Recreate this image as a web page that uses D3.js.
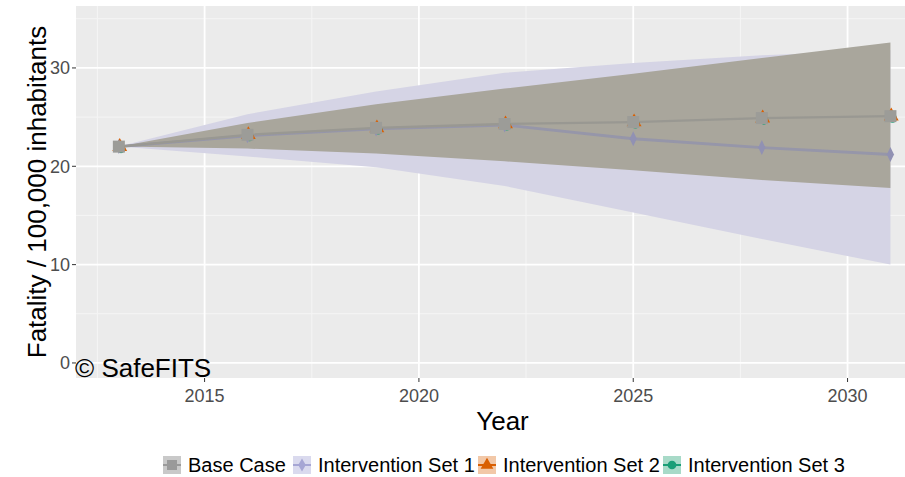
<!DOCTYPE html>
<html>
<head>
<meta charset="utf-8">
<script src="https://cdn.jsdelivr.net/npm/d3@7"></script>
<style>
  body { margin: 0; background: #fff; }
  svg text { font-family: Arial, "Liberation Sans", sans-serif; }
</style>
</head>
<body>
<div id="chart"></div>
<script>
// data
var years = [2013, 2016, 2019, 2022, 2025, 2028, 2031];
var baseCase = [22.0, 23.2, 23.9, 24.3, 24.5, 24.9, 25.1];
var interventionSet1 = [22.0, 23.1, 23.8, 24.2, 22.8, 21.9, 21.2];
var interventionSet2 = [22.0, 23.2, 23.9, 24.3, 24.5, 24.9, 25.1];
var interventionSet3 = [21.9, 23.1, 23.8, 24.2, 24.4, 24.8, 25.0];
var baseLow = [22.0, 21.8, 21.3, 20.5, 19.6, 18.6, 17.8];
var baseHigh = [22.0, 24.4, 26.3, 27.9, 29.4, 31.0, 32.6];
var set1Low = [22.0, 21.0, 19.9, 18.0, 15.3, 12.6, 10.0];
var set1High = [22.0, 25.3, 27.6, 29.5, 30.5, 31.3, 31.8];
var seriesNames = ["Base Case", "Intervention Set 1", "Intervention Set 2", "Intervention Set 3"];
var xTicks = [2015, 2020, 2025, 2030];
var yTicks = [0, 10, 20, 30];

var width = 905, height = 477;
var panel = { left: 76, top: 6, right: 929, bottom: 378 };

var x = d3.scaleLinear().domain([2012.0, 2031.9]).range([panel.left, panel.right]);
var y = d3.scaleLinear().domain([-1.53, 36.3]).range([panel.bottom, panel.top]);

var svg = d3.select("#chart").append("svg")
    .attr("width", width)
    .attr("height", height);

svg.append("defs").append("clipPath").attr("id", "clip")
    .append("rect")
    .attr("x", panel.left).attr("y", panel.top)
    .attr("width", panel.right - panel.left)
    .attr("height", panel.bottom - panel.top);

svg.append("rect")
    .attr("x", panel.left).attr("y", panel.top)
    .attr("width", panel.right - panel.left)
    .attr("height", panel.bottom - panel.top)
    .attr("fill", "#ebebeb");

var plot = svg.append("g").attr("clip-path", "url(#clip)");

// grid lines
var minorY = [5, 15, 25, 35], minorX = [2012.5, 2017.5, 2022.5, 2027.5];
plot.selectAll(".minorY").data(minorY).enter().append("line")
    .attr("x1", panel.left).attr("x2", panel.right)
    .attr("y1", function(d) { return y(d) }).attr("y2", function(d) { return y(d) })
    .attr("stroke", "#f5f5f5").attr("stroke-width", 1);
plot.selectAll(".minorX").data(minorX).enter().append("line")
    .attr("y1", panel.top).attr("y2", panel.bottom)
    .attr("x1", function(d) { return x(d) }).attr("x2", function(d) { return x(d) })
    .attr("stroke", "#f5f5f5").attr("stroke-width", 1);
plot.selectAll(".majorY").data(yTicks).enter().append("line")
    .attr("x1", panel.left).attr("x2", panel.right)
    .attr("y1", function(d) { return y(d) }).attr("y2", function(d) { return y(d) })
    .attr("stroke", "#fff").attr("stroke-width", 1.8);
plot.selectAll(".majorX").data(xTicks).enter().append("line")
    .attr("y1", panel.top).attr("y2", panel.bottom)
    .attr("x1", function(d) { return x(d) }).attr("x2", function(d) { return x(d) })
    .attr("stroke", "#fff").attr("stroke-width", 1.8);

// ribbons
function band(lo, hi) {
    return d3.area()
        .x(function(d, i) { return x(years[i]) })
        .y0(function(d, i) { return y(lo[i]) })
        .y1(function(d, i) { return y(hi[i]) })(years);
}
plot.append("path").attr("d", band(set1Low, set1High)).attr("fill", "#d5d4e5");
plot.append("path").attr("d", band(baseLow, baseHigh)).attr("fill", "#a9a69c");

// lines
function line(vals) {
    return d3.line()
        .x(function(d, i) { return x(years[i]) })
        .y(function(d, i) { return y(vals[i]) })(years);
}
plot.append("path").attr("d", line(interventionSet1))
    .attr("fill", "none").attr("stroke", "#9696a9").attr("stroke-width", 2.8);
plot.append("path").attr("d", line(baseCase))
    .attr("fill", "none").attr("stroke", "#999892").attr("stroke-width", 2.3);

// markers
var tri = d3.symbol().type(d3.symbolTriangle).size(95);
var circ = d3.symbol().type(d3.symbolCircle).size(60);
var diam = d3.symbol().type(d3.symbolDiamond).size(45);

plot.selectAll(".s3").data(years).enter().append("path")
    .attr("d", circ)
    .attr("transform", function(d, i) { return "translate(" + x(d + 0.05) + "," + y(interventionSet3[i] - 0.12) + ")" })
    .attr("fill", "#1b9e77");
plot.selectAll(".s2").data(years).enter().append("path")
    .attr("d", tri)
    .attr("transform", function(d, i) { return "translate(" + x(d + 0.02) + "," + y(interventionSet2[i]) + ")" })
    .attr("fill", "#d95f02");
plot.selectAll(".s1").data(years).enter().append("path")
    .attr("d", diam)
    .attr("transform", function(d, i) { return "translate(" + x(d) + "," + y(interventionSet1[i]) + ") scale(1,1.2)" })
    .attr("fill", "#9191b3");
plot.selectAll(".base").data(years).enter().append("rect")
    .attr("x", function(d) { return x(d) - 6 })
    .attr("y", function(d, i) { return y(baseCase[i]) - 6 })
    .attr("width", 12).attr("height", 12)
    .attr("fill", "#9c9c98");

// axes
svg.selectAll(".ytick").data(yTicks).enter().append("line")
    .attr("x1", panel.left - 4).attr("x2", panel.left)
    .attr("y1", function(d) { return y(d) }).attr("y2", function(d) { return y(d) })
    .attr("stroke", "#333").attr("stroke-width", 1);
svg.selectAll(".ylab").data(yTicks).enter().append("text")
    .attr("x", panel.left - 6)
    .attr("y", function(d) { return y(d) + 6.5 })
    .attr("text-anchor", "end")
    .attr("font-size", 18).attr("fill", "#4d4d4d")
    .text(function(d) { return d });
svg.selectAll(".xtick").data(xTicks).enter().append("line")
    .attr("y1", panel.bottom).attr("y2", panel.bottom + 4)
    .attr("x1", function(d) { return x(d) }).attr("x2", function(d) { return x(d) })
    .attr("stroke", "#333").attr("stroke-width", 1);
svg.selectAll(".xlab").data(xTicks).enter().append("text")
    .attr("x", function(d) { return x(d) })
    .attr("y", 402)
    .attr("text-anchor", "middle")
    .attr("font-size", 18).attr("fill", "#4d4d4d")
    .text(function(d) { return d });

svg.append("text")
    .attr("x", (panel.left + panel.right) / 2).attr("y", 430)
    .attr("text-anchor", "middle").attr("font-size", 26).attr("fill", "#000")
    .text("Year");
svg.append("text")
    .attr("transform", "translate(46," + (panel.top + panel.bottom) / 2 + ") rotate(-90)")
    .attr("text-anchor", "middle").attr("font-size", 26).attr("fill", "#000")
    .text("Fatality / 100,000 inhabitants");
svg.append("text")
    .attr("x", 75).attr("y", 377)
    .attr("font-size", 26).attr("fill", "#000")
    .text("\u00a9 SafeFITS");

// legend
var keyX = [163, 293, 478, 663];
var keyBg = ["#c9c9c9", "#dadaee", "#f2c8a8", "#a8dac8"];
var keyCol = ["#9a9a9a", "#a6a6d4", "#d95f02", "#1b9e77"];
var leg = svg.selectAll(".leg").data(seriesNames).enter().append("g")
    .attr("transform", function(d, i) { return "translate(" + keyX[i] + ",456)" });
leg.append("rect").attr("width", 18).attr("height", 18)
    .attr("fill", function(d, i) { return keyBg[i] });
leg.append("line").attr("x1", 0).attr("x2", 18).attr("y1", 9).attr("y2", 9)
    .attr("stroke", function(d, i) { return keyCol[i] }).attr("stroke-width", 2);
leg.append("path")
    .attr("transform", "translate(9,9)")
    .attr("d", function(d, i) {
        if (i == 0) return d3.symbol().type(d3.symbolSquare).size(100)();
        if (i == 1) return d3.symbol().type(d3.symbolDiamond).size(50)();
        if (i == 2) return d3.symbol().type(d3.symbolTriangle).size(70)();
        return d3.symbol().type(d3.symbolCircle).size(60)();
    })
    .attr("fill", function(d, i) { return keyCol[i] });
leg.append("text").attr("x", 25).attr("y", 16)
    .attr("font-size", 20).attr("fill", "#000")
    .text(function(d) { return d });
</script>
</body>
</html>
